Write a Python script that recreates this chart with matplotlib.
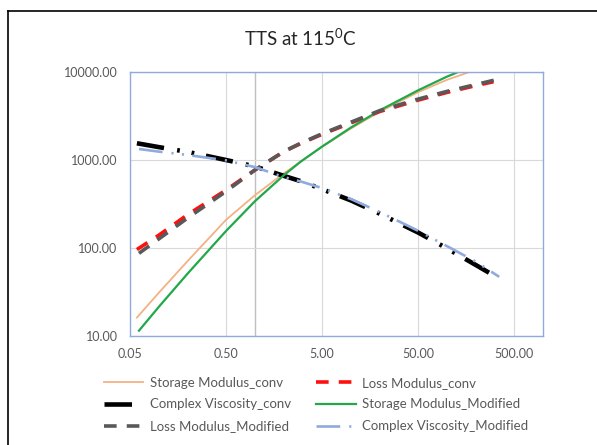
import matplotlib
matplotlib.use("Agg")
import matplotlib.pyplot as plt
from matplotlib.lines import Line2D

# frequencies (conv and modified runs end at slightly different points)
freq_conv = [0.059, 0.1, 0.2, 0.5, 1, 2, 3, 5, 10, 20, 50, 100, 200, 305]
freq_mod = [0.062, 0.1, 0.2, 0.5, 1, 2, 3, 5, 10, 20, 50, 100, 200, 350]

storage_conv = [16.2, 31.1, 71.5, 209, 398, 705, 960, 1410, 2280, 3540, 5900, 8150, 10600, 12000]
loss_conv = [96, 140, 240, 455, 770, 1245, 1540, 1960, 2640, 3560, 4790, 5860, 7010, 7750]
visc_conv = [1550, 1400, 1235, 1000, 845, 660, 575, 466, 347, 245, 150, 99, 64, 49]

storage_mod = [11.5, 21.5, 51.5, 156, 340, 671, 959, 1420, 2340, 3670, 6190, 8860, 12100, 14800]
loss_mod = [87, 127, 220, 440, 770, 1251, 1552, 1987, 2690, 3645, 4918, 6021, 7205, 8330]
visc_mod = [1334, 1245, 1140, 990, 830, 640, 570, 480, 360, 256, 157, 105, 70, 47]

x_ticks = [0.05, 0.5, 5, 50, 500]
x_ticklabels = ["0.05", "0.50", "5.00", "50.00", "500.00"]
y_ticks = [10, 100, 1000, 10000]
y_ticklabels = ["10.00", "100.00", "1000.00", "10000.00"]

labels = ["Storage Modulus_conv", "Loss Modulus_conv", "Complex Viscosity_conv",
		"Storage Modulus_Modified", "Loss Modulus_Modified", "Complex Viscosity_Modified"]


def main():
	plt.rcParams['font.family'] = ['Lato', 'DejaVu Sans']
	plt.rcParams['mathtext.fontset'] = 'custom'
	plt.rcParams['mathtext.rm'] = 'Lato'

	fig = plt.figure(figsize=(5.97, 4.45), dpi=100)
	ax = fig.add_axes([130/597, 1-336/445, 413/597, 264/445])

	# outer chart border, only top and left are inside the picture
	top = 1-11/445
	fig.lines.append(Line2D([8/597, 1.0], [top, top], transform=fig.transFigure, color='black', lw=1.2))
	fig.lines.append(Line2D([8/597, 8/597], [0.0, top], transform=fig.transFigure, color='black', lw=1.2))

	dash = (0, (3.5, 2.8))
	h1, = ax.plot(freq_conv, storage_conv, color='#F4B183', lw=1.3)
	h2, = ax.plot(freq_conv, loss_conv, color='#FF1010', lw=2.6, linestyle=dash)
	h3, = ax.plot(freq_conv, visc_conv, color='black', lw=3.3,
		linestyle=(0, (6, 2.9, 0.6, 2.6, 0.6, 2.6)))
	h4, = ax.plot(freq_mod, storage_mod, color='#22A84A', lw=1.6)
	h5, = ax.plot(freq_mod, loss_mod, color='#595959', lw=2.6, linestyle=dash)
	h6, = ax.plot(freq_mod, visc_mod, color='#8FAADC', lw=1.9,
		linestyle=(0, (9, 3.4, 0.8, 3.2, 0.8, 3.2)))

	ax.set_xscale('log')
	ax.set_yscale('log')
	ax.set_xlim(0.05, 1000)
	ax.set_ylim(10, 10000)
	ax.set_xticks(x_ticks)
	ax.set_xticklabels(x_ticklabels)
	ax.set_yticks(y_ticks)
	ax.set_yticklabels(y_ticklabels)
	ax.minorticks_off()
	ax.tick_params(length=0, labelsize=9, labelcolor='#595959')
	ax.tick_params(axis='x', pad=9)
	ax.tick_params(axis='y', pad=9)
	ax.grid(True, color='#D9D9D9', lw=0.8)
	ax.set_axisbelow(True)
	# excel puts the value axis line at x = 1
	ax.axvline(1, color='#BFBFBF', lw=1.0, zorder=0.5)
	for s in ax.spines.values():
		s.set_color('#8FAADC')
		s.set_linewidth(1.0)

	fig.text(0.503, 1-38/445, 'TTS at 115$^{\\mathregular{0}}$C', ha='center', va='center',
		fontsize=13.5, color='#262626')

	# legend is filled row by row in excel, matplotlib fills columns
	handles = [h1, h3, h5, h2, h4, h6]
	order = [0, 2, 4, 1, 3, 5]
	fig.legend(handles, [labels[i] for i in order], loc='upper left', ncol=2,
		bbox_to_anchor=(97/597, 1-370/445), frameon=False, fontsize=9.5,
		handlelength=3.0, handletextpad=0.5, columnspacing=1.9, labelspacing=0.75,
		borderpad=0, labelcolor='#595959')

	fig.savefig('out.png', dpi=100)


if __name__ == "__main__":
	main()
